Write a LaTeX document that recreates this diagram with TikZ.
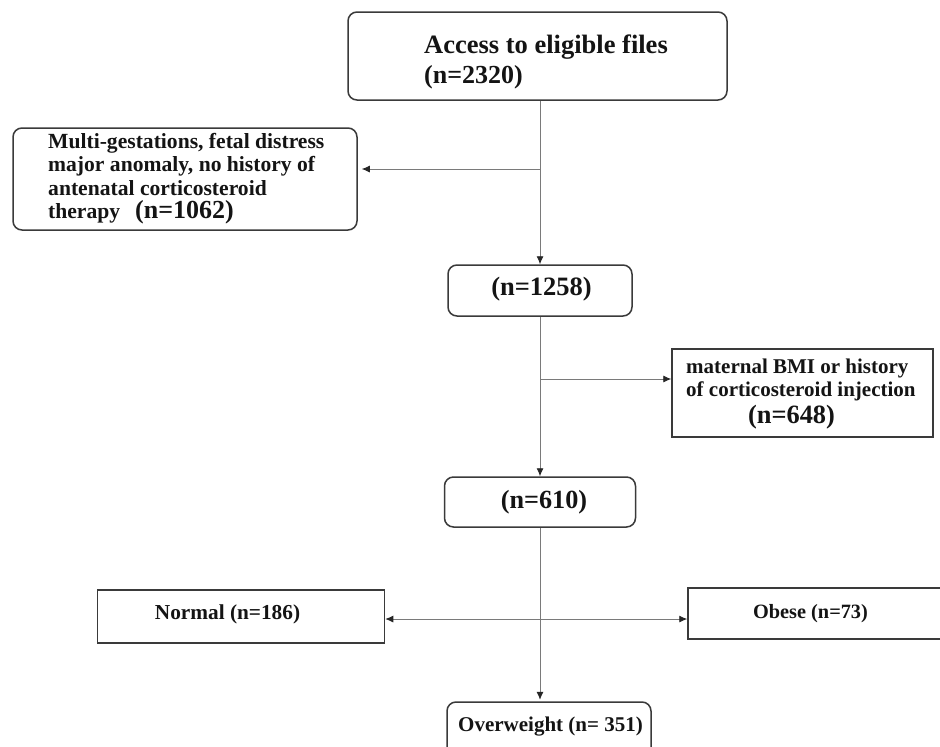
\documentclass[tikz,border=0pt]{standalone}
\usepackage{fontspec}
\setmainfont{Liberation Serif}
\usetikzlibrary{arrows.meta}
\definecolor{boxc}{HTML}{3A3A3A}
\definecolor{linec}{HTML}{7A7A7A}
\definecolor{txtc}{HTML}{141414}
\tikzset{
  rbox/.style={draw=boxc, line width=1.5pt, rounded corners=9pt, inner sep=0pt, fill=white},
  sbox/.style={draw=boxc, line width=1.5pt, inner sep=0pt, fill=white},
  txt/.style={inner sep=0pt, text=txtc, font=\bfseries},
  tip/.tip={Latex[length=8pt,width=7pt,color=black!85]},
  conn/.style={draw=linec, line width=0.9pt, -tip},
  both/.style={draw=linec, line width=0.9pt, tip-tip}
}
\begin{document}
\begin{tikzpicture}[x=1pt,y=-1pt]
\clip (0,0) rectangle (940,747);
\fill[white] (0,0) rectangle (940,747);
% boxes
\node[rbox, minimum width=379pt, minimum height=88pt] (top) at (537.5,56) {};
\node[rbox, minimum width=344pt, minimum height=102pt] (excl1) at (185,179) {};
\node[rbox, minimum width=184pt, minimum height=51pt] (b1258) at (540,290.5) {};
\node[sbox, minimum width=261pt, minimum height=88pt] (excl2) at (802.5,393) {};
\node[rbox, minimum width=191pt, minimum height=50pt] (b610) at (540,502) {};
\node[sbox, minimum width=287pt, minimum height=53pt] (normal) at (241,616.5) {};
\node[sbox, minimum width=262pt, minimum height=51pt] (obese) at (819,613.5) {};
\node[rbox, minimum width=204pt, minimum height=60pt] (over) at (549,732) {};
% texts
\node[txt, anchor=base west, font=\bfseries\fontsize{26.5}{30}\selectfont] (ttop1) at (424,53) {Access to eligible files};
\node[txt, anchor=base west, font=\bfseries\fontsize{26}{30}\selectfont] (ttop2) at (424,83.5) {(n=2320)};
\node[txt, anchor=base west, font=\bfseries\fontsize{21.6}{24}\selectfont] (te1) at (48,148) {Multi-gestations, fetal distress};
\node[txt, anchor=base west, font=\bfseries\fontsize{21.6}{24}\selectfont] (te2) at (48,171.5) {major anomaly, no history of};
\node[txt, anchor=base west, font=\bfseries\fontsize{21.6}{24}\selectfont] (te3) at (48,195) {antenatal corticosteroid};
\node[txt, anchor=base west, font=\bfseries\fontsize{21.6}{24}\selectfont] (te4) at (48,218) {therapy};
\node[txt, anchor=base west, font=\bfseries\fontsize{26}{30}\selectfont] (te5) at (135,218) {(n=1062)};
\node[txt, font=\bfseries\fontsize{26.5}{30}\selectfont] (t1258) at (541.5,289) {(n=1258)};
\node[txt, anchor=base west, font=\bfseries\fontsize{21}{24}\selectfont] (tr1) at (686,373) {maternal BMI or history};
\node[txt, anchor=base west, font=\bfseries\fontsize{21}{24}\selectfont] (tr2) at (686,396.5) {of corticosteroid injection};
\node[txt, font=\bfseries\fontsize{26.4}{30}\selectfont] (tr3) at (791.5,417.5) {(n=648)};
\node[txt, font=\bfseries\fontsize{26.2}{30}\selectfont] (t610) at (544,502.5) {(n=610)};
\node[txt, font=\bfseries\fontsize{21.3}{24}\selectfont] (tnormal) at (227.5,614) {Normal (n=186)};
\node[txt, font=\bfseries\fontsize{20.3}{24}\selectfont] (tobese) at (810.5,613.5) {Obese (n=73)};
\node[txt, font=\bfseries\fontsize{21}{24}\selectfont] (tover) at (550.5,727) {Overweight (n= 351)};
% connectors
\draw[conn] (b1258.north |- top.south) -- (b1258.north);
\coordinate (j1) at (540,169);
\draw[conn, shorten >=4pt] (j1) -- (j1 -| excl1.east);
\draw[conn] (b1258.south) -- (b610.north);
\coordinate (j2) at (540,379);
\draw[conn] (j2) -- (j2 -| excl2.west);
\draw[conn, shorten >=1.5pt] (b610.south) -- (b610.south |- over.north);
\coordinate (j3) at (540,619);
\draw[both] (j3 -| normal.east) -- (j3 -| obese.west);
\end{tikzpicture}
\end{document}
